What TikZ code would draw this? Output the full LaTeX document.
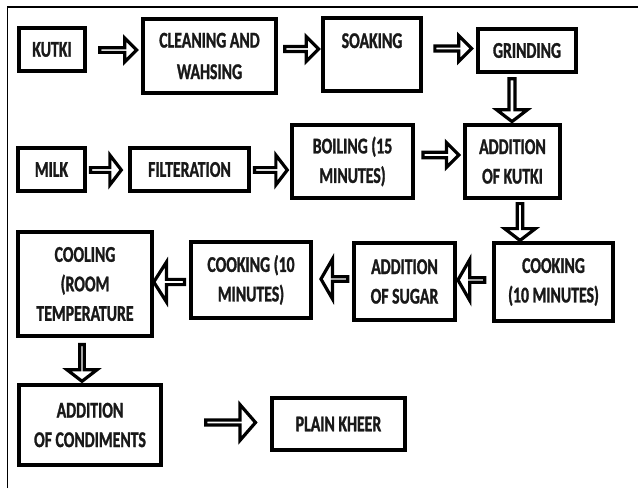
\documentclass[tikz,border=0pt]{standalone}
\usepackage{fontspec}
\setmainfont[FakeStretch=0.7, FakeBold=1.2]{Carlito}
\usetikzlibrary{shapes.arrows}
\tikzset{
  box/.style={draw=black, line width=3.8pt, fill=white, inner sep=0pt, align=center,
    font=\fontsize{22.5}{29.5}\selectfont\bfseries, text=black!90},
  blk/.style={single arrow, draw=black, fill=white, line width=3.2pt, inner sep=0pt,
    single arrow head indent=0pt},
  frameline/.style={line width=1.3pt, draw=black}
}
\begin{document}
\begin{tikzpicture}[x=1pt, y=-1pt]
\fill[white] (0,0) rectangle (638,488);
\useasboundingbox (0,0) rectangle (638,488);
\coordinate (fc) at (7.5,7);
\coordinate (fb) at (7.5,488);
\coordinate (fr) at (638,7);
\draw[frameline] (fb) -- (fc) -- (fr);

% boxes
\node[box, minimum width=66.2pt, minimum height=43.2pt] (kutki) at (52,49.5) {KUTKI};
\node[box, minimum width=133.2pt, minimum height=74.2pt] (clean) at (209.5,56) {CLEANING AND\\[2pt]WAHSING};
\node[box, minimum width=98.2pt, minimum height=73.2pt, text height=14pt, text depth=27pt] (soak) at (372,54.5) {SOAKING};
\node[box, minimum width=98.2pt, minimum height=43.2pt] (grind) at (527,50.5) {GRINDING};
\node[box, minimum width=67.2pt, minimum height=43.2pt] (milk) at (51.5,169.5) {MILK};
\node[box, minimum width=119.2pt, minimum height=43.2pt] (filt) at (189.5,169.5) {FILTERATION};
\node[box, minimum width=121.2pt, minimum height=73.2pt] (boil) at (352.5,161.5) {BOILING (15\\MINUTES)};
\node[box, minimum width=95.2pt, minimum height=73.2pt] (addk) at (512.5,161.5) {ADDITION\\OF KUTKI};
\node[box, minimum width=119.2pt, minimum height=78.2pt] (cookA) at (553.5,282) {COOKING\\(10 MINUTES)};
\node[box, minimum width=101.2pt, minimum height=77.2pt] (sugar) at (404.5,281.5) {ADDITION\\OF SUGAR};
\node[box, minimum width=120.2pt, minimum height=76.2pt] (cookB) at (251,280) {COOKING (10\\MINUTES)};
\node[box, minimum width=134.2pt, minimum height=104.2pt] (cool) at (85,284) {COOLING\\(ROOM\\TEMPERATURE};
\node[box, minimum width=142.2pt, minimum height=80.2pt] (cond) at (90,425) {ADDITION\\OF CONDIMENTS};
\node[box, minimum width=133.2pt, minimum height=52.2pt] (kheer) at (338.5,424) {PLAIN KHEER};

% block arrows (outer sizes minus line width)
\node[blk, minimum height=36.8pt, minimum width=23.8pt, single arrow head extend=6.5pt, single arrow tip angle=90] (a1) at (117,50) {};
\node[blk, minimum height=33.8pt, minimum width=24.8pt, single arrow head extend=6.5pt, single arrow tip angle=90] (a2) at (300.5,49) {};
\node[blk, minimum height=36.8pt, minimum width=25.8pt, single arrow head extend=6.5pt, single arrow tip angle=90] (a3) at (452,48.5) {};
\node[blk, minimum height=30.8pt, minimum width=29.8pt, single arrow head extend=8.5pt, single arrow tip angle=105] (a4) at (105,170) {};
\node[blk, minimum height=32.8pt, minimum width=29.8pt, single arrow head extend=8.5pt, single arrow tip angle=105] (a5) at (270,170) {};
\node[blk, minimum height=35.8pt, minimum width=24.8pt, single arrow head extend=5.5pt, single arrow tip angle=90] (a6) at (439.5,155) {};
\node[blk, shape border rotate=180, minimum height=26.8pt, minimum width=40.8pt, single arrow head extend=12.5pt, single arrow tip angle=120] (a7) at (472,280) {};
\node[blk, shape border rotate=180, minimum height=26.8pt, minimum width=39.8pt, single arrow head extend=12.5pt, single arrow tip angle=120] (a8) at (335,279) {};
\node[blk, shape border rotate=180, minimum height=30.8pt, minimum width=39.8pt, single arrow head extend=10.5pt, single arrow tip angle=115] (a9) at (170,282) {};
\node[blk, shape border rotate=270, minimum height=42.8pt, minimum width=30.8pt, single arrow head extend=6.5pt, single arrow tip angle=105] (d1) at (512,99) {};
\node[blk, shape border rotate=270, minimum height=36.8pt, minimum width=30.8pt, single arrow head extend=7.5pt, single arrow tip angle=105] (d2) at (520,221) {};
\node[blk, shape border rotate=270, minimum height=36.8pt, minimum width=29.8pt, single arrow head extend=9pt, single arrow tip angle=105] (d3) at (82,362) {};
\node[blk, minimum height=49.8pt, minimum width=35.8pt, single arrow head extend=9.5pt, single arrow tip angle=98] (a10) at (229.5,422.5) {};
\end{tikzpicture}
\end{document}
